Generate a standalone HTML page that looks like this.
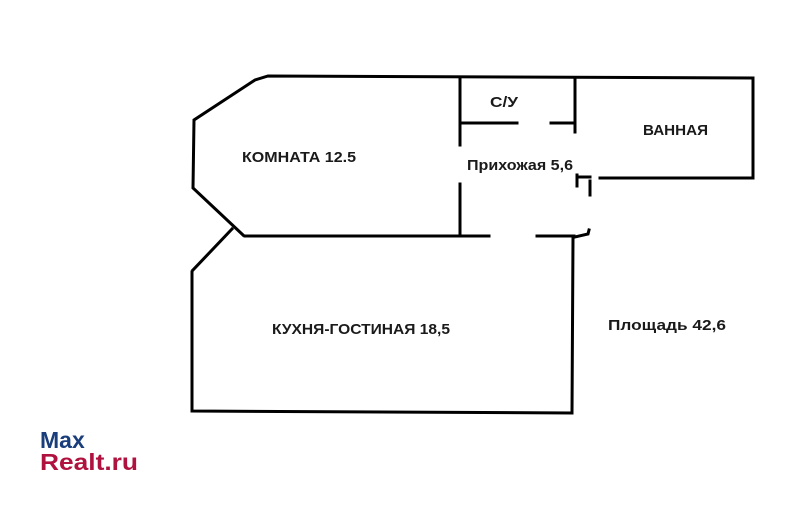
<!DOCTYPE html>
<html><head><meta charset="utf-8"><style>
body{margin:0;background:#fff;width:801px;height:500px;overflow:hidden;font-family:"Liberation Sans",sans-serif}
</style></head><body>
<svg width="801" height="500" xmlns="http://www.w3.org/2000/svg">
<g stroke="#000" stroke-width="3" fill="none" stroke-linecap="square">
<polyline points="753,78 268,76 255,80 194,120 193,188 243,235"/>
<line x1="245" y1="236" x2="460" y2="236"/>
<line x1="460" y1="236" x2="489" y2="236"/>
<line x1="537" y1="236" x2="574" y2="236"/>
<polyline points="575,237 588,234 589,230"/>
<line x1="460" y1="79" x2="460" y2="145"/>
<line x1="460" y1="184" x2="460" y2="236"/>
<line x1="463" y1="123" x2="517" y2="123"/>
<line x1="551" y1="123" x2="575" y2="123"/>
<line x1="575" y1="79" x2="575" y2="132"/>
<polyline points="753,78 753,178 600,178"/>
<line x1="577" y1="175" x2="577" y2="186"/>
<line x1="577" y1="177" x2="590" y2="177"/>
<line x1="590" y1="181" x2="590" y2="195"/>
<line x1="232" y1="229" x2="193" y2="270"/>
<polyline points="192,272 192,411 572,413 573,238"/>
</g>
<g font-family="'Liberation Sans',sans-serif" font-size="15" font-weight="bold" fill="#1a1a1a">
<text x="242" y="162" textLength="114" lengthAdjust="spacingAndGlyphs">КОМНАТА  12.5</text>
<text x="490" y="107" textLength="28" lengthAdjust="spacingAndGlyphs">С/У</text>
<text x="643" y="135" textLength="65" lengthAdjust="spacingAndGlyphs">ВАННАЯ</text>
<text x="467" y="170" textLength="106" lengthAdjust="spacingAndGlyphs">Прихожая 5,6</text>
<text x="272" y="334" textLength="178" lengthAdjust="spacingAndGlyphs">КУХНЯ-ГОСТИНАЯ  18,5</text>
<text x="608" y="330" textLength="118" lengthAdjust="spacingAndGlyphs">Площадь  42,6</text>
</g>
<text x="40" y="448" font-size="23" font-weight="bold" fill="#1a3d7c" font-family="'Liberation Sans',sans-serif">Max</text>
<text x="40" y="470" font-size="23" font-weight="bold" fill="#b0123f" font-family="'Liberation Sans',sans-serif" textLength="98" lengthAdjust="spacingAndGlyphs">Realt.ru</text>
</svg>
</body></html>
